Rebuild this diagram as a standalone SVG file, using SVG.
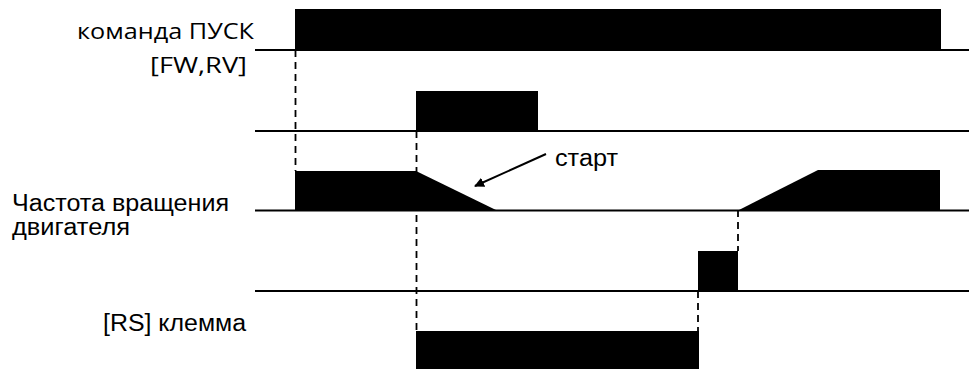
<svg xmlns="http://www.w3.org/2000/svg" width="969" height="369" viewBox="0 0 969 369">
<defs>
<style>
.lbl{font-family:"Liberation Sans",Arial,sans-serif;font-size:23px;fill:#000}
.lbl2{font-family:"Open Sans","Noto Sans",sans-serif;font-size:22px;fill:#000}
.base{stroke:#000;stroke-width:2;fill:none}
.dash{stroke:#000;stroke-width:1.8;stroke-dasharray:7,5;fill:none}
.sig{fill:#000;stroke:none}
</style>
<marker id="ah" viewBox="0 0 10 10" refX="9" refY="5" markerWidth="10" markerHeight="10" markerUnits="userSpaceOnUse" orient="auto">
<path d="M0,0 L10,5 L0,10 z" fill="#000"/>
</marker>
</defs>
<rect width="969" height="369" fill="#fff"/>
<g id="connectors">
<line class="base" x1="255" y1="50" x2="969" y2="50"/>
<line class="base" x1="255" y1="131" x2="969" y2="131"/>
<line class="base" x1="255" y1="210.5" x2="969" y2="210.5"/>
<line class="base" x1="255" y1="291" x2="969" y2="291"/>
<line class="dash" x1="295.5" y1="50" x2="295.5" y2="171"/>
<line class="dash" x1="416.5" y1="131" x2="416.5" y2="331"/>
<line class="dash" x1="738" y1="210" x2="738" y2="251"/>
<line class="dash" x1="698" y1="291" x2="698" y2="331"/>
<line stroke="#000" stroke-width="2" x1="546" y1="154" x2="475" y2="186" marker-end="url(#ah)"/>
</g>
<g id="run-cmd">
<rect class="sig" x="295" y="9" width="646" height="41"/>
<text class="lbl2" x="254" y="39" text-anchor="end" textLength="177" lengthAdjust="spacingAndGlyphs">команда ПУСК</text>
<text class="lbl2" x="247" y="73" text-anchor="end" textLength="97" lengthAdjust="spacingAndGlyphs">[FW,RV]</text>
</g>
<g id="pulse-2">
<rect class="sig" x="416" y="91" width="122" height="40"/>
</g>
<g id="motor-speed">
<path class="sig" d="M295,210.5 L295,171 L416,171 L497,210.5 z"/>
<path class="sig" d="M738,210.5 L818,170 L940,170 L940,210.5 z"/>
<text class="lbl" x="12" y="211" textLength="217" lengthAdjust="spacingAndGlyphs">Частота вращения</text>
<text class="lbl" x="12" y="235" textLength="118" lengthAdjust="spacingAndGlyphs">двигателя</text>
</g>
<g id="start-label">
<text class="lbl" x="555" y="166" textLength="63" lengthAdjust="spacingAndGlyphs">старт</text>
</g>
<g id="pulse-4">
<rect class="sig" x="698" y="251" width="40" height="40"/>
</g>
<g id="rs-terminal">
<rect class="sig" x="416" y="331" width="283" height="38"/>
<text class="lbl" x="246" y="331" text-anchor="end" textLength="143" lengthAdjust="spacingAndGlyphs">[RS] клемма</text>
</g>
</svg>
